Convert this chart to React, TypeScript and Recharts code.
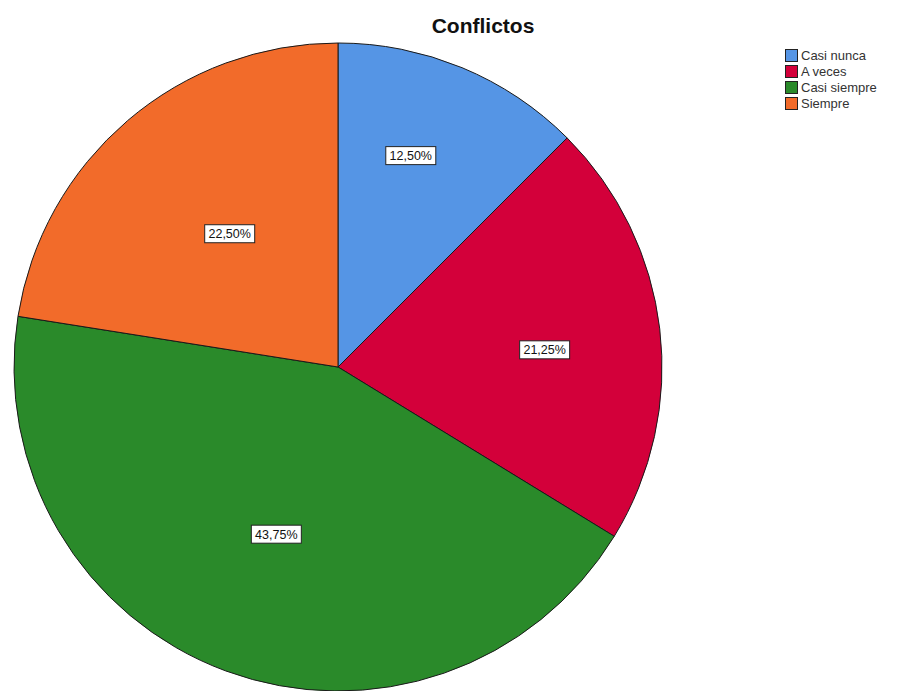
import React from 'react';
import { PieChart, Pie, Cell, Legend } from 'recharts';

const categories = ['Casi nunca', 'A veces', 'Casi siempre', 'Siempre'];
const percents = [12.5, 21.25, 43.75, 22.5];
const colors = ['#5595E5', '#D3003A', '#2A8A2A', '#F26B2A'];

// label placement: share of the radius and small angle nudge (SPSS puts them unevenly)
const labelRadius = [0.69, 0.64, 0.55, 0.53];
const labelNudge = [3.5, -2, 0, -1.4];

const RADIAN = Math.PI / 180;

const fmt = (v: number) => v.toFixed(2).replace('.', ',') + '%';

const renderLabel = (props: any) => {
  const { cx, cy, midAngle, outerRadius, index, value } = props;
  const r = outerRadius * labelRadius[index];
  const a = (midAngle + labelNudge[index]) * RADIAN;
  const x = cx + r * Math.cos(-a);
  const y = cy + r * Math.sin(-a);
  const w = 50;
  const h = 18;
  return (
    <g>
      <rect x={x - w / 2} y={y - h / 2} width={w} height={h} fill="#fff" stroke="#222" strokeWidth={1} />
      <text x={x} y={y + 4.5} textAnchor="middle" fontSize={12.5} fill="#111" fontFamily="Liberation Sans, Arial">
        {fmt(value)}
      </text>
    </g>
  );
};

const renderLegend = () => (
  <div style={{ fontFamily: 'Liberation Sans, Arial', fontSize: 13, color: '#333' }}>
    {categories.map((c, i) => (
      <div key={c} style={{ display: 'flex', alignItems: 'center', height: 16 }}>
        <span
          style={{
            width: 11,
            height: 11,
            background: colors[i],
            border: '1px solid #222',
            marginRight: 3,
            display: 'inline-block',
          }}
        />
        <span>{c}</span>
      </div>
    ))}
  </div>
);

export default function App() {
  const data = categories.map((name, i) => ({ name, value: percents[i] }));
  return (
    <div style={{ position: 'absolute', left: 0, top: 0, width: 921, height: 691, background: '#fff' }}>
      <div
        style={{
          position: 'absolute',
          left: 383,
          width: 200,
          top: 14,
          textAlign: 'center',
          fontFamily: 'Liberation Sans, Arial',
          fontWeight: 'bold',
          fontSize: 21,
          color: '#111',
          zIndex: 2,
        }}
      >
        Conflictos
      </div>
      <PieChart width={921} height={691} margin={{ top: 0, right: 0, bottom: 0, left: 0 }}>
        <Pie
          data={data}
          dataKey="value"
          nameKey="name"
          cx={338}
          cy={367}
          outerRadius={324}
          startAngle={90}
          endAngle={-270}
          stroke="#1a1a1a"
          strokeWidth={1}
          label={renderLabel}
          labelLine={false}
          isAnimationActive={false}
        >
          {data.map((d, i) => (
            <Cell key={d.name} fill={colors[i]} />
          ))}
        </Pie>
        <Legend
          layout="vertical"
          align="right"
          verticalAlign="top"
          content={renderLegend}
          wrapperStyle={{ left: 785, top: 47, width: 130 }}
        />
      </PieChart>
    </div>
  );
}
